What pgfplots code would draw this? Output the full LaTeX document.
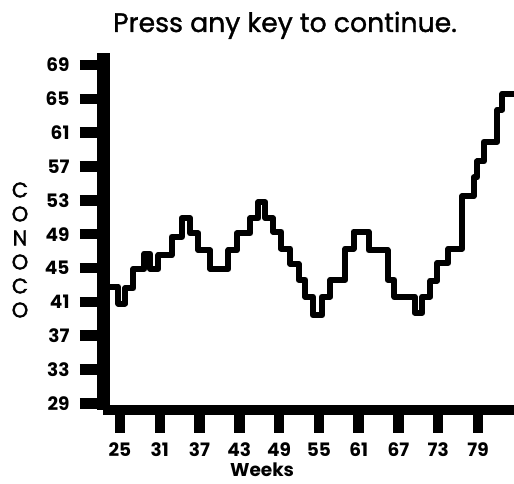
\documentclass[border=0pt]{standalone}
\usepackage{fontspec}
\setmainfont{Poppins}
\newfontfamily\medfont[FakeBold=1.2]{Poppins}
\newfontfamily\heavyfont[FakeBold=2]{Poppins}
\usepackage{pgfplots}
\pgfplotsset{compat=1.18}
\begin{document}
\begin{tikzpicture}
\useasboundingbox (0pt,0pt) rectangle (514pt,484pt);
\node[font=\medfont\fontsize{26.7}{30}\selectfont, anchor=base, inner sep=0pt] at (285pt,452pt) {Press any key to continue.};
\node[font=\heavyfont\fontsize{21}{24}\selectfont, align=center, inner sep=0pt] at (20pt,234pt) {C\\O\\N\\O\\C\\O};
\begin{axis}[
  at={(103pt,74pt)}, anchor=south west, scale only axis,
  width=411pt, height=357pt,
  xmin=22.44, xmax=84.43, ymin=28.21, ymax=70.42,
  axis x line=bottom, axis y line=left, separate axis lines,
  axis line style={-},
  x axis line style={line width=10pt},
  y axis line style={line width=13pt},
  tick align=outside, major tick length=23pt,
  tick style={line width=10.5pt, black},
  xtick={25,31,...,79}, ytick={29,33,...,69},
  ticklabel style={font=\fontsize{18.5}{20}\selectfont\bfseries},
  yticklabel style={xshift=-7pt},
  xticklabel style={yshift=-6pt},
  /pgf/number format/assume math mode=true,
  clip=false,
  xlabel={Weeks},
  xlabel style={at={(rel axis cs:0.387,0)}, anchor=north, yshift=-53pt, inner sep=0pt, font=\fontsize{18.5}{20}\selectfont\bfseries},
]
\addplot[const plot, line width=6pt, line join=round, black] coordinates {
(23.4,42.8) (24.74,40.8) (25.76,42.6) (27.01,44.9) (28.67,46.7) (29.53,44.9)
(30.79,46.5) (32.81,48.7) (34.32,50.9) (35.57,49.1) (36.83,47.1) (38.60,44.9)
(41.36,47.1) (42.63,49.1) (44.64,50.9) (45.89,52.8) (46.90,50.9) (48.07,49.3)
(49.32,47.3) (50.68,45.5) (51.93,43.6) (52.95,41.6) (54.11,39.4) (55.47,41.6)
(56.72,43.6) (58.99,47.3) (60.24,49.3) (62.51,47.1) (65.36,43.6) (66.39,41.6)
(69.47,39.7) (70.6,41.6) (71.8,43.5) (72.85,45.6) (74.55,47.3) (76.62,53.5)
(78.36,55.7) (78.87,57.6) (79.87,59.9) (81.9,63.7) (82.65,65.6) (84.43,65.6)};
\end{axis}
\end{tikzpicture}
\end{document}
